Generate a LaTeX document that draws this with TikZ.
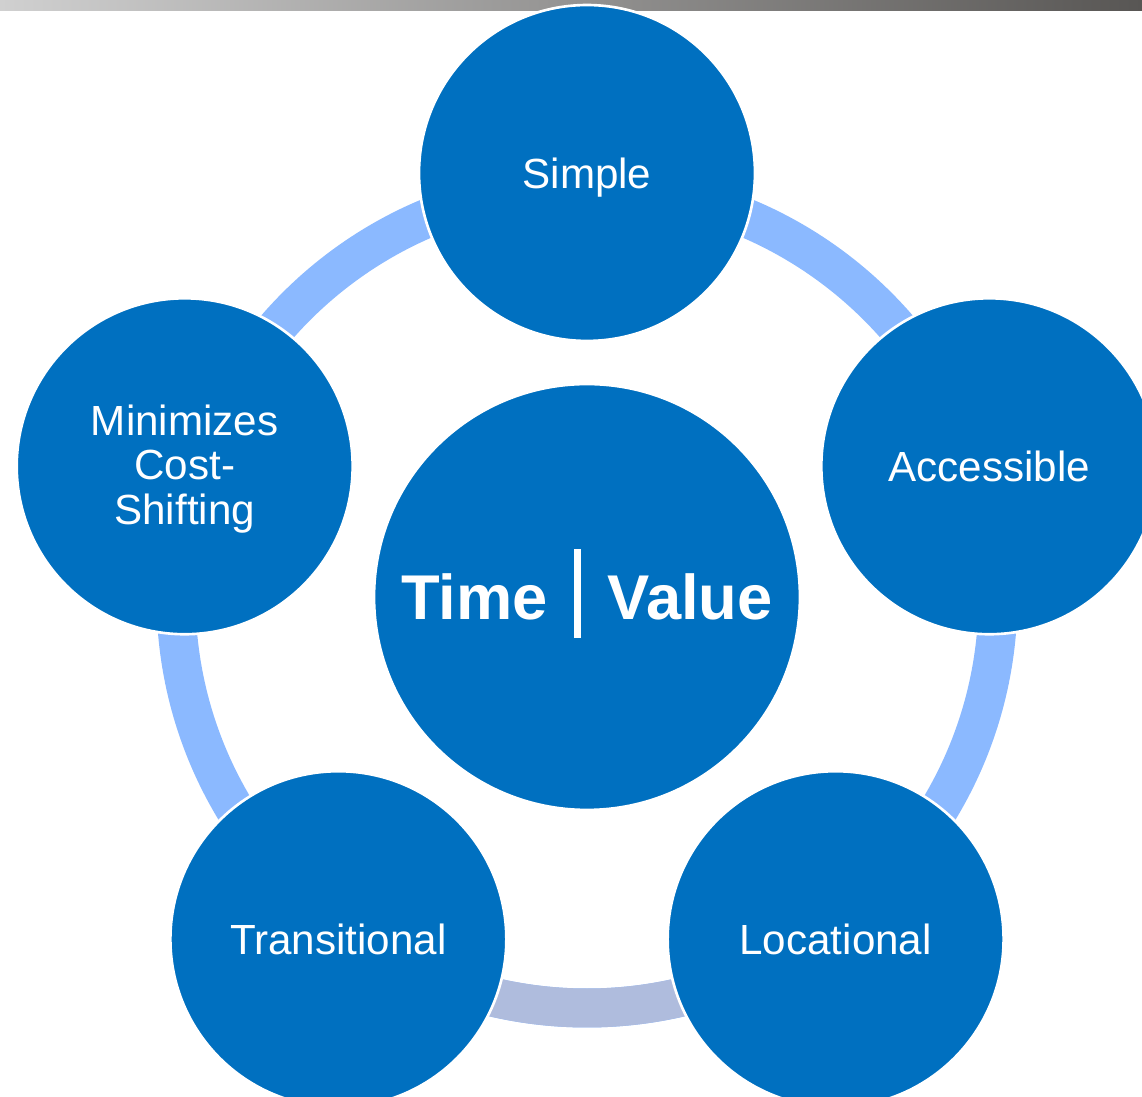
\documentclass[tikz,border=0pt]{standalone}
\usepackage{fontspec}
\setmainfont{Liberation Sans}
\definecolor{discblue}{RGB}{0,112,192}
\definecolor{ringblue}{RGB}{139,185,255}
\definecolor{ringlav}{RGB}{175,188,221}
\definecolor{barlight}{RGB}{208,208,208}
\definecolor{bardark}{RGB}{88,86,84}

\begin{document}
\begin{tikzpicture}[x=0.02cm, y=0.02cm,
    ring/.style={line width=0.78cm, draw=ringblue},
    disc/.style={circle, fill=discblue, draw=white, line width=1.5pt, inner sep=0pt, text=white},
    petal/.style={disc, minimum size=6.72cm, align=center,
        font=\fontsize{24}{25.3}\selectfont, text height=17.3pt, text depth=0pt}]
    \useasboundingbox (-587,-500) rectangle (555,597);

    % Header bar
    \shade[left color=barlight, right color=bardark] (-587,586) rectangle (555,597);

    % Ring behind the petals
    \draw[ring] (0,0) circle[radius=411];
    \draw[ring, draw=ringlav] (-126:411) arc[start angle=-126, end angle=-54, radius=411];

    % Petals
    \node[petal] (simple) at (90:424) {Simple};
    \node[petal] (access) at (18:423) {Accessible};
    \node[petal] (locat) at (-54:423) {Locational};
    \node[petal] (trans) at (-126:423) {Transitional};
    \node[petal, text height=66pt] (costs) at (162:423) {Minimizes\\Cost-\\Shifting};

    % Centre
    \node[disc, minimum size=8.52cm, font=\bfseries\fontsize{36}{40}\selectfont,
        text height=25.2pt, text depth=0pt] (core) at (0,0)
        {Time\hspace{15pt}\rule[-10.8pt]{4pt}{51pt}\hspace{15pt}Value};
\end{tikzpicture}
\end{document}
